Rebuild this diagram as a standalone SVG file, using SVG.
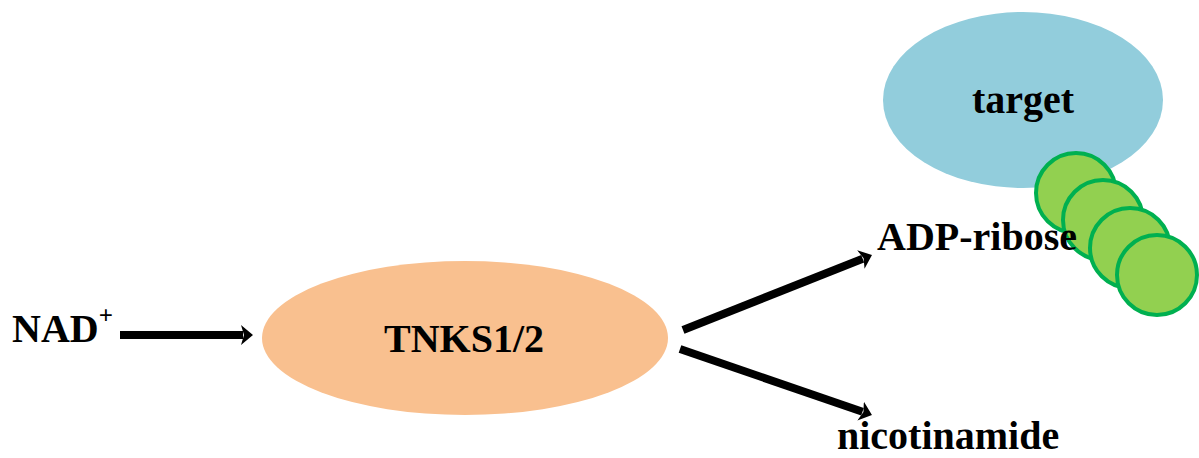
<svg xmlns="http://www.w3.org/2000/svg" width="1199" height="458" viewBox="0 0 1199 458">
<style>
.t{font-family:"Liberation Serif","Times New Roman",serif;font-weight:bold;fill:#000;font-size:40px}
.c{fill:#92D050;stroke:#00B050;stroke-width:4}
.a{stroke:#000;stroke-width:8;fill:none}
</style>
<defs>
<marker id="ah" markerUnits="userSpaceOnUse" markerWidth="12" markerHeight="20" viewBox="0 0 12 20" refX="2" refY="10" orient="auto">
<path d="M0,0 L12,10 L0,20 L3,10 Z" fill="#000"/>
</marker>
</defs>
<rect width="1199" height="458" fill="#fff"/>
<g id="target">
<ellipse cx="1023" cy="100" rx="140" ry="88" fill="#92CDDC"/>
<text class="t" x="1023" y="113" text-anchor="middle">target</text>
</g>
<g id="tnks">
<ellipse cx="465" cy="338" rx="203" ry="77" fill="#F9C08F"/>
<text class="t" x="464" y="352" text-anchor="middle">TNKS1/2</text>
</g>
<g id="nad">
<text class="t" x="12" y="342" font-size="42">NAD<tspan font-size="25" dy="-18">+</tspan></text>
</g>
<g id="adp-ribose">
<circle class="c" cx="1076" cy="193" r="40"/>
<circle class="c" cx="1103" cy="220" r="40"/>
<text class="t" x="877" y="250">ADP-ribose</text>
<circle class="c" cx="1130" cy="248" r="40"/>
<circle class="c" cx="1157" cy="275" r="40"/>
</g>
<g id="nicotinamide">
<text class="t" x="837" y="449">nicotinamide</text>
</g>
<g id="connectors">
<line class="a" x1="120" y1="335" x2="243" y2="335" marker-end="url(#ah)"/>
<line class="a" x1="683" y1="330" x2="862.7" y2="258.7" marker-end="url(#ah)"/>
<line class="a" x1="680" y1="349" x2="862.5" y2="411.7" marker-end="url(#ah)"/>
</g>
</svg>
